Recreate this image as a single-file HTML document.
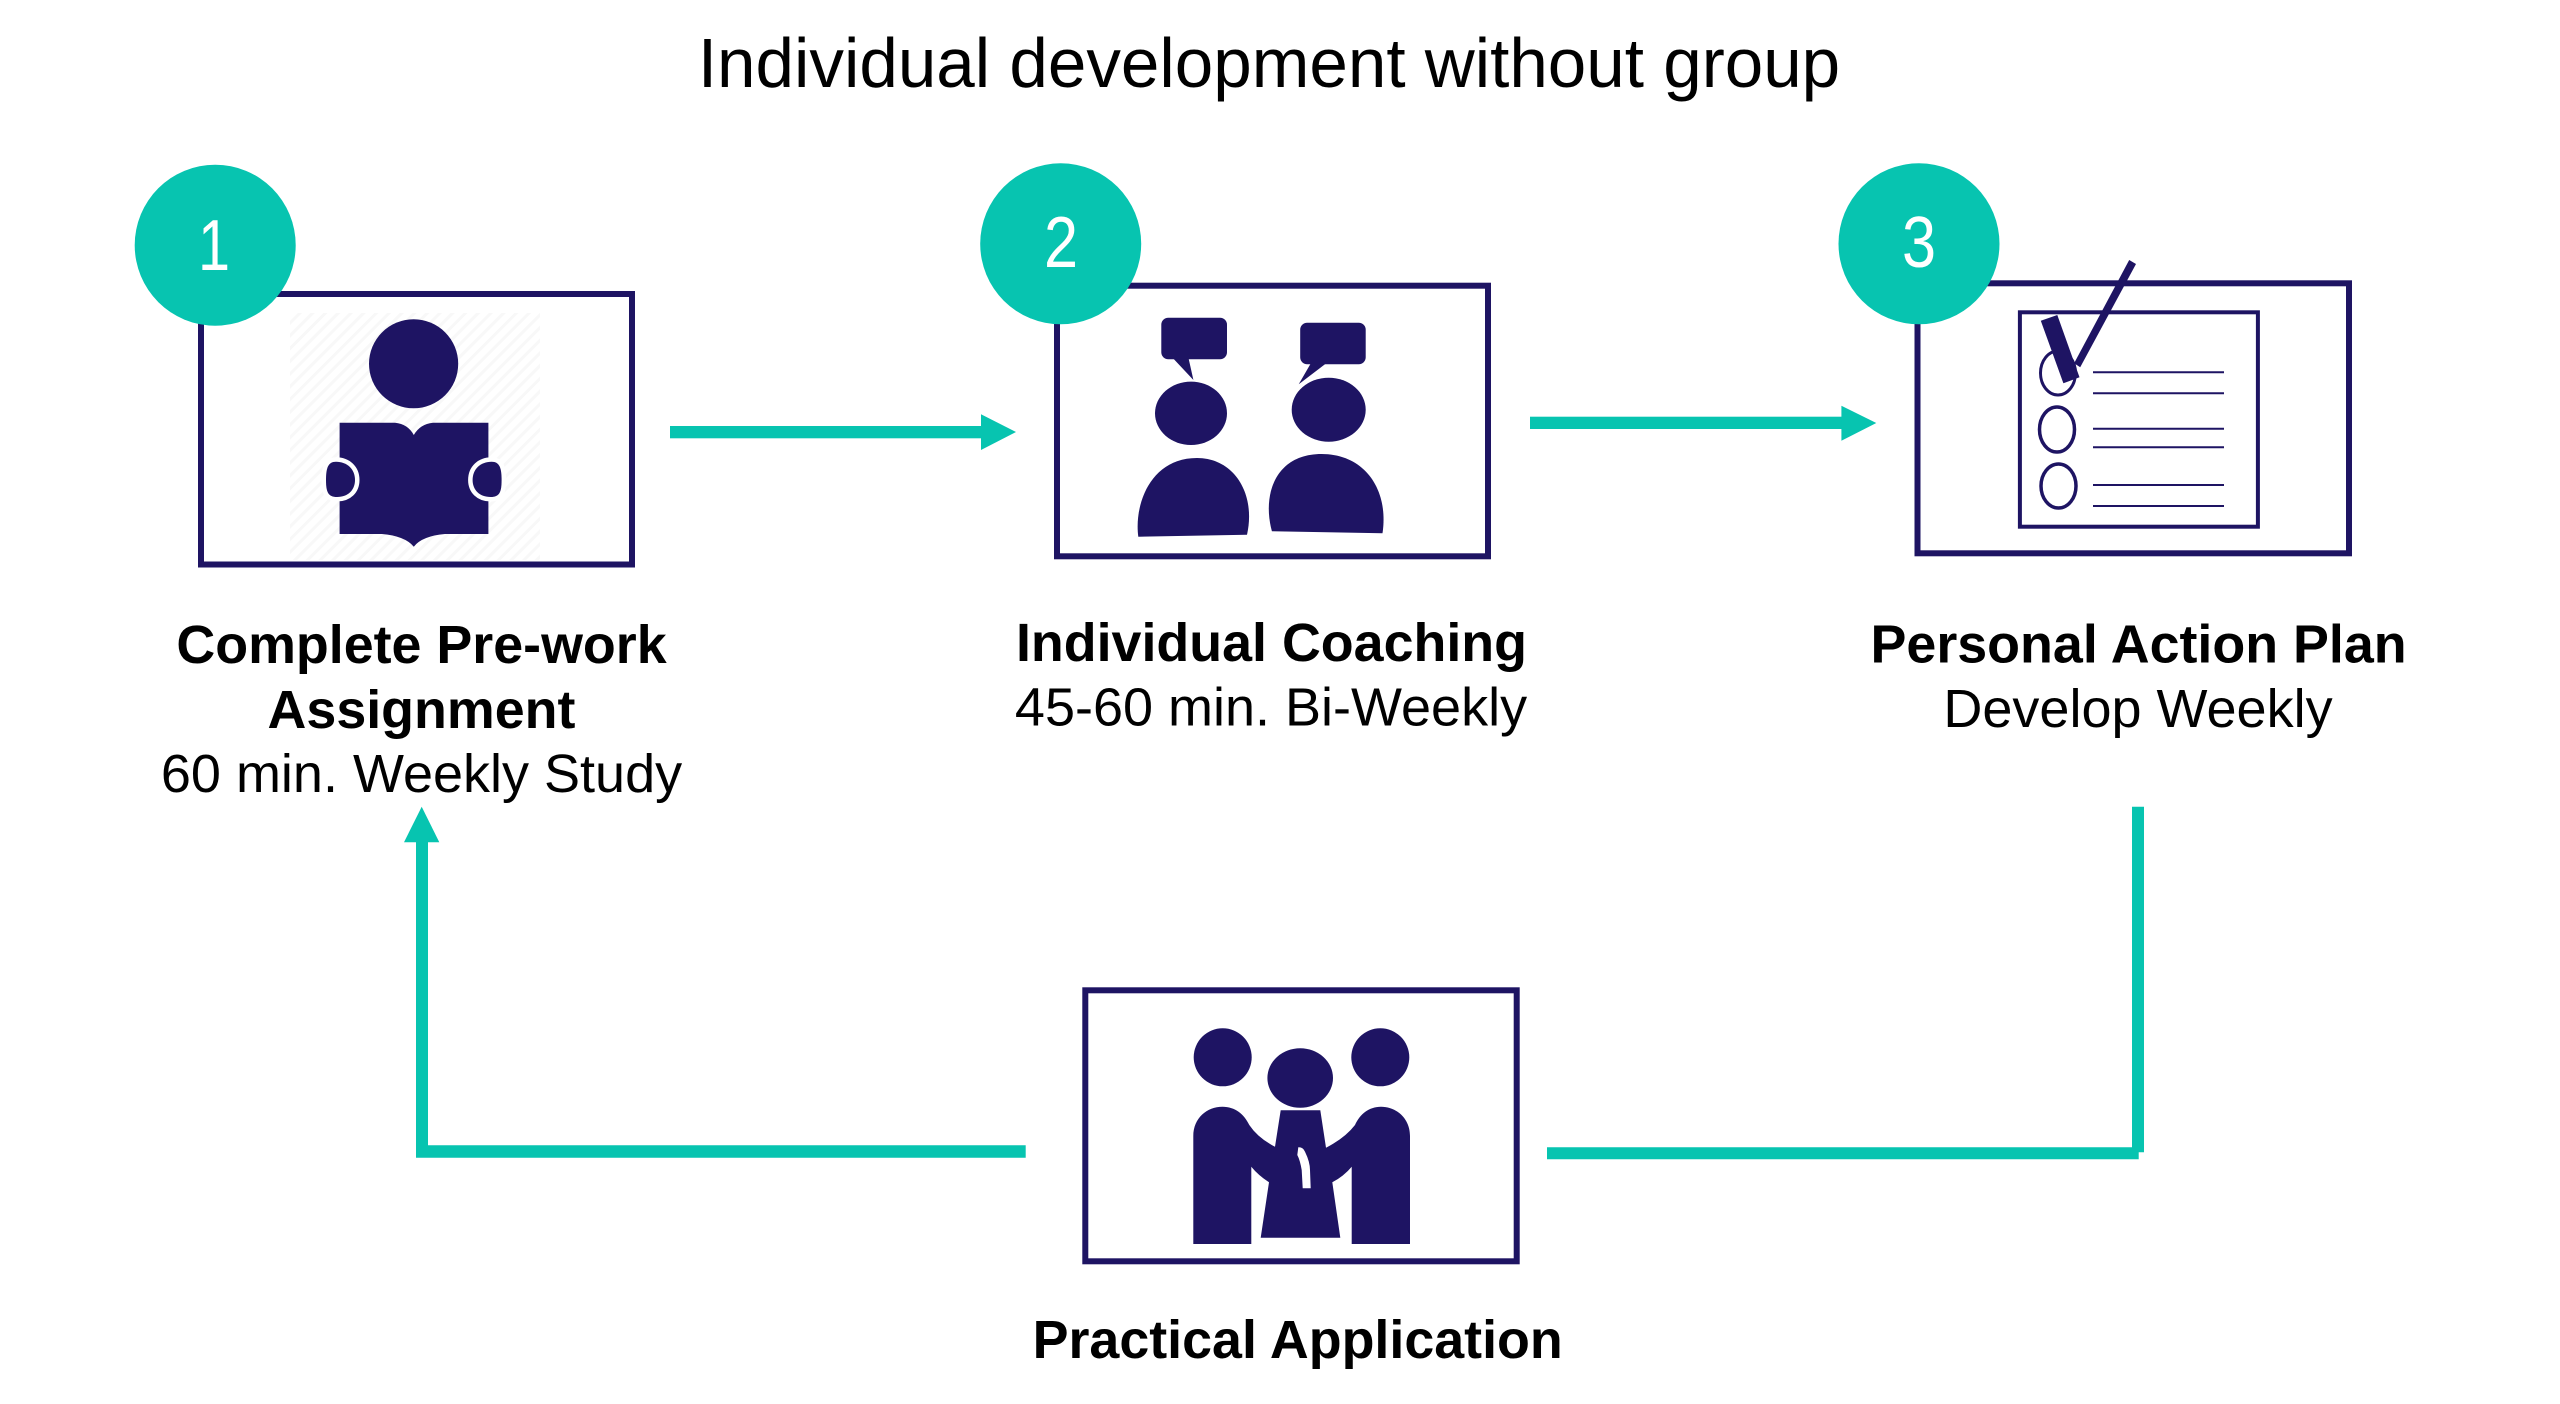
<!DOCTYPE html>
<html><head><meta charset="utf-8"><title>Individual development without group</title>
<style>html,body{margin:0;padding:0;background:#fff}svg{display:block}
text{font-family:"Liberation Sans",sans-serif;fill:#000}
.b{font-weight:700;font-size:53.8px}.r{font-size:54px}
.n{fill:#fff;font-size:72px}</style></head><body>
<svg width="2560" height="1404" viewBox="0 0 2560 1404" xmlns="http://www.w3.org/2000/svg">
<defs><pattern id="h" width="9" height="9" patternUnits="userSpaceOnUse" patternTransform="rotate(45)"><rect width="9" height="9" fill="#fff"/><rect width="3" height="9" fill="#f8f8f8"/></pattern></defs>
<rect width="2560" height="1404" fill="#fff"/>
<text x="1269" y="87" text-anchor="middle" font-size="69.2">Individual development without group</text>

<!-- boxes -->
<g fill="none" stroke="#1e1463" stroke-width="6">
<rect x="201" y="294" width="431" height="270.5"/>
<rect x="1057" y="285.7" width="431" height="270.6"/>
<rect x="1917.5" y="283.3" width="431.5" height="270"/>
<rect x="1085.3" y="990.3" width="431.4" height="271"/>
</g>

<!-- book reader -->
<rect x="290" y="313" width="250" height="247" fill="url(#h)"/>
<g fill="#1e1463">
<ellipse cx="413.6" cy="363.8" rx="44.6" ry="44.5"/>
<path d="M339.6 422.7H395Q408 424 413.8 435Q420 424 433 422.7H488.4V534H445Q422 536 413.8 546.7Q405 536 382 534H339.6Z"/>
<g stroke="#fff" stroke-width="9" paint-order="stroke">
<path d="M336 461.7C347 461.7 355 469 355 480C355 490 348 497 337 497C328 497 326 492 326 480C326 468 328 461.7 336 461.7Z"/>
<path d="M491.6 461.7C480.6 461.7 472.6 469 472.6 480C472.6 490 479.6 497 490.6 497C499.6 497 501.6 492 501.6 480C501.6 468 499.6 461.7 491.6 461.7Z"/>
</g>
</g>

<!-- coaching -->
<g fill="#1e1463">
<rect x="1161.3" y="317.7" width="65.7" height="41.6" rx="7"/>
<path d="M1172.8 358L1193.4 380L1188.5 358Z"/>
<ellipse cx="1191" cy="413.3" rx="36" ry="31.7"/>
<path d="M1138.3 536.7C1134 505 1150 458 1197 458C1235 458 1256 495 1247 534.7Z"/>
<rect x="1300.2" y="322.7" width="65.5" height="41.6" rx="7"/>
<path d="M1311 363L1298.7 384.3L1326.6 363Z"/>
<ellipse cx="1328.7" cy="409.7" rx="37" ry="32"/>
<path d="M1271.9 531.3C1262 495 1275 454 1321.6 454C1365 454 1389 490 1382.5 533.3Z"/>
</g>

<!-- checklist -->
<g fill="none" stroke="#1e1463">
<rect x="2019.9" y="312.3" width="238" height="214.4" stroke-width="4"/>
<ellipse cx="2058" cy="373" rx="17.5" ry="22" stroke-width="3"/>
<ellipse cx="2057" cy="429.5" rx="17.5" ry="22.5" stroke-width="3.5"/>
<ellipse cx="2058.5" cy="486" rx="17.5" ry="22" stroke-width="3.5"/>
<path d="M2093 372.3H2224M2093 393.3H2224M2093 428.7H2224M2093 447.3H2224M2093 485H2224M2093 506H2224" stroke-width="2"/>
</g>
<g fill="#1e1463">
<path d="M2040.8 320.7L2057.3 315L2079.5 377.3L2063.4 383.3Z"/>
<path d="M2129.2 260L2136 264L2080.2 367.3L2074.1 363.3Z"/>
</g>

<!-- team -->
<g fill="#1e1463">
<circle cx="1222.7" cy="1057.3" r="29"/>
<circle cx="1380.3" cy="1057.3" r="29"/>
<ellipse cx="1300.2" cy="1078" rx="32.8" ry="29.7"/>
<path d="M1193.3 1244V1136C1193.3 1118 1207 1106.7 1222.5 1106.7C1235 1106.7 1244 1114 1249.3 1125Q1258 1138 1275 1146.7L1280.7 1110.3H1320.3L1326 1147.7Q1345 1138 1355 1125C1360 1114 1369 1106.7 1381 1106.7C1396 1106.7 1410 1118 1410 1136V1244H1351.7V1166.7Q1344 1176 1332.3 1182.3L1340.3 1237.7H1260.7L1269 1182.3Q1258 1175 1251.3 1166.7V1244Z"/>
</g>
<path d="M1297.3 1155L1298.3 1147.3Q1303 1147 1305 1151.7Q1310 1162 1310 1170L1310.7 1188.3H1302.7L1301.7 1170Q1300 1160 1297.3 1155Z" fill="#fff"/>

<!-- connectors -->
<g fill="#07c4b0">
<rect x="670" y="426" width="316" height="12.3"/><path d="M981 414.3L1016 432L981 450Z"/>
<rect x="1530" y="416.7" width="316" height="12.3"/><path d="M1841.4 405.7L1876.3 423L1841.4 440.7Z"/>
<path d="M421.7 806.7L439.3 842.3H404Z"/>
<path d="M416 840H428V1145.3H1025.7V1157.7H416Z"/>
<path d="M2132 806.7H2144V1152.3H2138.7V1159.3H1547V1147.3H2132Z"/>
</g>

<!-- badges -->
<g fill="#07c4b0">
<circle cx="215.2" cy="245.2" r="80.5"/>
<circle cx="1060.7" cy="243.8" r="80.5"/>
<circle cx="1919" cy="243.8" r="80.5"/>
</g>
<text class="n" transform="translate(214,270) scale(.8,1)" text-anchor="middle">1</text>
<text class="n" transform="translate(1061,267) scale(.85,1)" text-anchor="middle">2</text>
<text class="n" transform="translate(1919,267) scale(.85,1)" text-anchor="middle">3</text>

<!-- labels -->
<text class="b" x="421.5" y="663" text-anchor="middle">Complete Pre-work</text>
<text class="b" x="421.5" y="728" text-anchor="middle">Assignment</text>
<text class="r" x="421.5" y="792" text-anchor="middle">60 min. Weekly Study</text>
<text class="b" x="1271.5" y="661" text-anchor="middle">Individual Coaching</text>
<text class="r" x="1271" y="725.5" text-anchor="middle">45-60 min. Bi-Weekly</text>
<text class="b" x="2138.6" y="662.5" text-anchor="middle">Personal Action Plan</text>
<text class="r" x="2138" y="727" text-anchor="middle">Develop Weekly</text>
<text class="b" x="1297.7" y="1358" text-anchor="middle">Practical Application</text>
</svg></body></html>
